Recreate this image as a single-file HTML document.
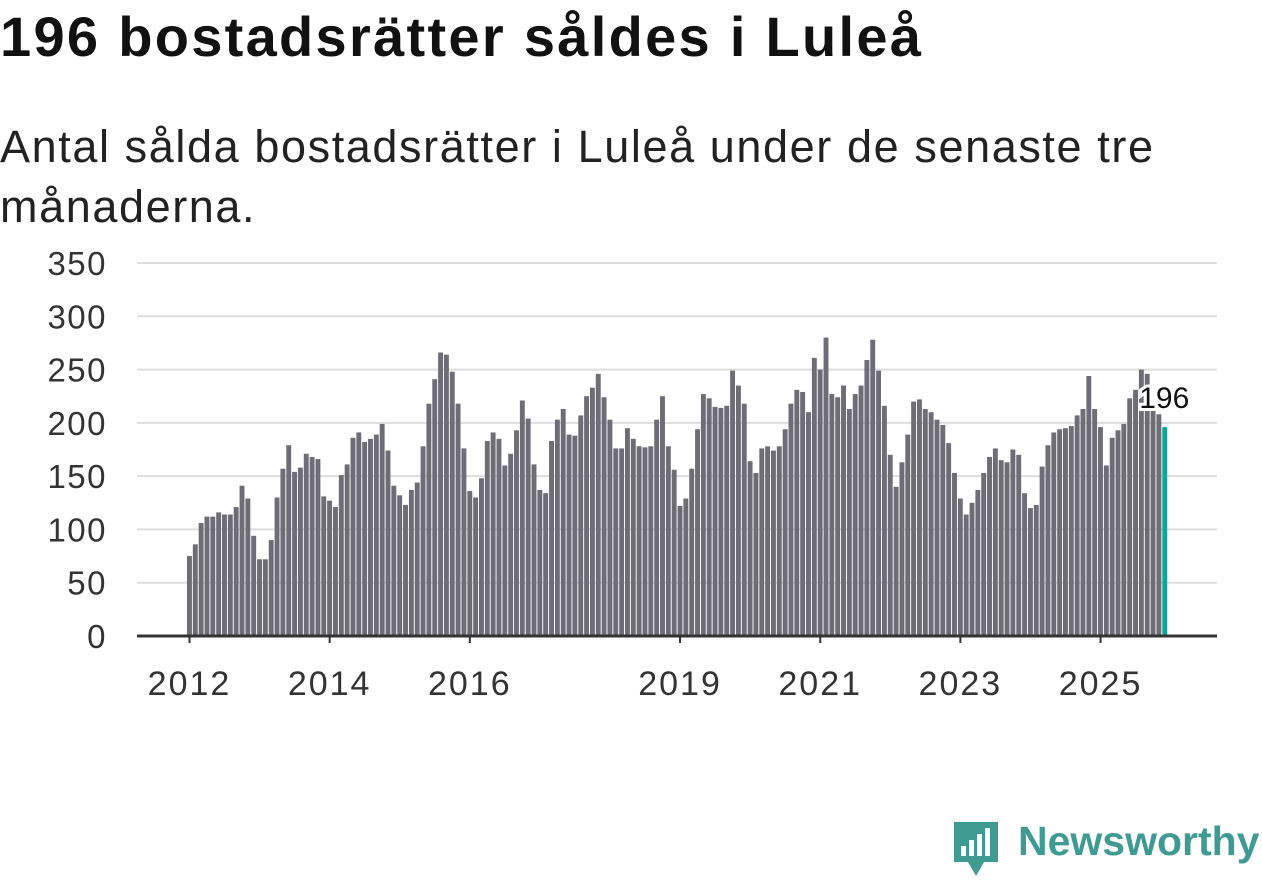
<!DOCTYPE html>
<html><head><meta charset="utf-8">
<style>
body{margin:0;width:1262px;height:879px;background:#fff;overflow:hidden;font-family:"Liberation Sans","DejaVu Sans",sans-serif;}
h1{position:absolute;left:0;top:4px;margin:0;font-size:56px;font-weight:bold;color:#111;letter-spacing:2.3px;}
p{position:absolute;left:0;top:117px;margin:0;font-size:45px;line-height:60px;color:#222;width:1260px;letter-spacing:1.6px;}
svg{position:absolute;left:0;top:0;}
</style></head><body>
<h1>196 bostadsrätter såldes i Luleå</h1>
<p>Antal sålda bostadsrätter i Luleå under de senaste tre<br>månaderna.</p>
<svg id="chart" width="1262" height="879"></svg>
<script>
const values = [75,86,106,112,112,116,114,114,121,141,129,94,
72,72,90,130,157,179,154,158,171,168,166,131,
127,121,151,161,186,191,182,185,189,199,174,141,
132,123,137,144,178,218,241,266,264,248,218,176,
136,130,148,183,191,185,160,171,193,221,204,161,
137,134,183,203,213,189,188,207,225,233,246,224,
203,176,176,195,185,178,177,178,203,225,178,156,
122,129,157,194,227,223,215,214,216,249,235,218,
164,153,176,178,174,178,194,218,231,229,210,261,
250,280,227,224,235,213,227,235,259,278,249,216,
170,140,163,189,220,222,213,210,203,198,181,153,
129,114,125,137,153,168,176,165,163,175,170,134,
120,123,159,179,191,194,195,197,207,213,244,213,
196,160,186,193,199,223,231,250,246,212,208,196];
const yTicks = [0,50,100,150,200,250,300,350];
const xTickLabels = ["2012","2014","2016","2019","2021","2023","2025"];
const xTickIndex = [0,24,48,84,108,132,156];
const lastLabel = "196";

const NS="http://www.w3.org/2000/svg";
const svg=document.getElementById('chart');
const x0=137,x1=1217,y0=636,yMax=350,yTop=263;
const step=5.84, firstX=187;
function yS(v){return y0-(v/yMax)*(y0-yTop);}
function xS(i){return firstX+i*step;}
function mk(t,a){const e=document.createElementNS(NS,t);for(const k in a)e.setAttribute(k,a[k]);svg.appendChild(e);return e;}
yTicks.forEach(v=>{
  if(v>0){const g=mk('line',{x1:x0,x2:x1,y1:yS(v),y2:yS(v),stroke:'#dddddd','stroke-width':2});
  
  }
  const t=mk('text',{x:107,y:yS(v)+12,'text-anchor':'end','font-size':33,fill:'#333','letter-spacing':1.5});
  t.textContent=v;
  
  
});
values.forEach((v,i)=>{
  const last=i===values.length-1;
  const r=mk('rect',{x:xS(i),y:yS(v),width:4.9,height:y0-yS(v),fill:last?'#14a39a':'#6e6d75'});
  
  
});
const ax=mk('line',{x1:x0,x2:x1,y1:y0,y2:y0,stroke:'#333','stroke-width':3});


xTickIndex.forEach((idx,k)=>{
  const cx=xS(idx)+2.5;
  const tk=mk('line',{x1:cx,x2:cx,y1:y0,y2:y0+7,stroke:'#333','stroke-width':2});
  
  
  const t=mk('text',{x:cx,y:695,'text-anchor':'middle','font-size':34,fill:'#333','letter-spacing':2});
  t.textContent=xTickLabels[k];
  
  
});
const li=values.length-1;
const lt=mk('text',{x:xS(li)+2,y:yS(values[li])-19,'text-anchor':'middle','font-size':30,fill:'#111',stroke:'#fff','stroke-width':6,'paint-order':'stroke'});
lt.textContent=lastLabel;


</script>
<div style="position:absolute;left:952px;top:820px;height:60px;">
<svg width="50" height="60" style="position:absolute;left:0;top:0">
<path d="M2 2 H46 V42 H32 L24 56 L16 42 H2 Z" fill="#3f9b92"/>
<rect x="9" y="26" width="5" height="10" fill="#fff"/><rect x="17" y="20" width="5" height="16" fill="#fff"/>
<rect x="25" y="14" width="5" height="22" fill="#fff"/><rect x="33" y="8" width="5" height="28" fill="#fff"/>
</svg>
<span style="position:absolute;left:66px;top:-2px;font-size:41px;font-weight:bold;color:#3f9b92;white-space:nowrap">Newsworthy</span>
</div>
</body></html>
